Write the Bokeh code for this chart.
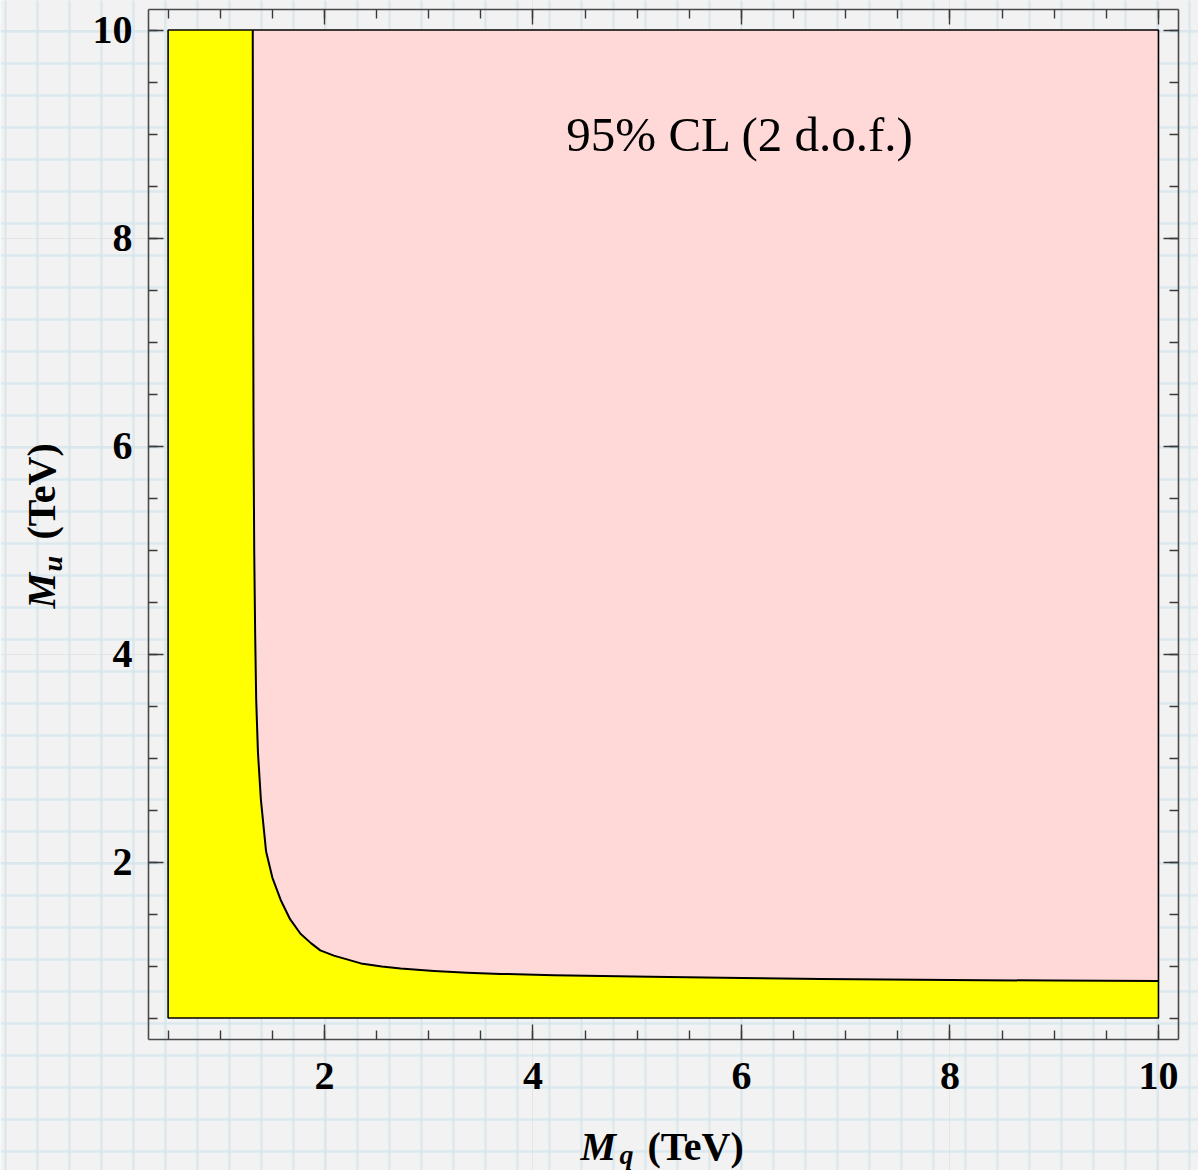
import math
from bokeh.plotting import figure
from bokeh.models import Range1d, FixedTicker, LinearAxis, Label, Grid
from bokeh.embed import file_html
from bokeh.resources import INLINE

# 95% CL exclusion boundary: M_q vs M_u in TeV
mq_boundary = [1.312, 1.314, 1.317, 1.320, 1.326, 1.335, 1.345, 1.362, 1.39, 1.44,
               1.50, 1.58, 1.67, 1.77, 1.87, 1.96, 2.09, 2.35, 2.55, 2.73,
               3.05, 3.37, 3.69, 4.20, 5.13, 6.00, 6.76, 8.00, 9.00, 10.0]
mu_boundary = [10.0, 8.5, 7.0, 6.0, 5.0, 4.2, 3.56, 3.05, 2.6, 2.1,
               1.85, 1.635, 1.45, 1.31, 1.22, 1.15, 1.10, 1.025, 0.995, 0.975,
               0.952, 0.935, 0.924, 0.912, 0.897, 0.885, 0.875, 0.865, 0.86, 0.856]

m_min, m_max = 0.5, 10.0
x_ticks = [2, 4, 6, 8, 10]
y_ticks = [2, 4, 6, 8, 10]
minor_ticks = [0.5 * i for i in range(1, 21)]
annotation = "95% CL (2 d.o.f.)"

SERIF = "Liberation Serif"
W, H = 1198, 1170
PX_X, PX_Y = 104.25, 104.0          # pixels per TeV
X0 = 0.5 - 167.6 / PX_X              # data x at the left canvas edge
Y1 = 10.0 + 29.5 / PX_Y              # data y at the top canvas edge


def dx(px):
    return X0 + px / PX_X


def dy(py):
    return Y1 - py / PX_Y


p = figure(width=W, height=H,
           x_range=Range1d(X0, X0 + W / PX_X), y_range=Range1d(Y1 - H / PX_Y, Y1),
           output_backend="svg", toolbar_location=None,
           x_axis_location=None, y_axis_location=None,
           min_border=0)
p.outline_line_color = None
p.background_fill_color = "#f2f2f2"
p.border_fill_color = "#f2f2f2"

# graph-paper page background
paper_x = [dx(5 + 32 * k) for k in range(0, 38)]
paper_y = [dy(31 + 32 * k) for k in range(-1, 37)]
for dim, ticks in ((0, paper_x), (1, paper_y)):
    g = Grid(dimension=dim, ticker=FixedTicker(ticks=ticks))
    g.grid_line_color = "#d2e4ed"
    g.grid_line_width = 2.5
    g.grid_line_alpha = 0.7
    p.add_layout(g)

# plot box (frame) in data units
bx0, bx1 = dx(148), dx(1178)
by0, by1 = dy(1039), dy(9)


def make_axis(ticks, loc, bounds, show_labels, standoff):
    ax = LinearAxis(ticker=FixedTicker(ticks=ticks, minor_ticks=minor_ticks),
                    fixed_location=loc, bounds=bounds)
    ax.axis_line_color = "#4a4a4a"
    ax.axis_line_width = 1.6
    ax.major_tick_in = 15
    ax.major_tick_out = 0
    ax.minor_tick_in = 9
    ax.minor_tick_out = 0
    ax.major_tick_line_color = "#3a3a3a"
    ax.minor_tick_line_color = "#3a3a3a"
    ax.major_tick_line_width = 1.4
    ax.minor_tick_line_width = 1.4
    if show_labels:
        ax.major_label_text_font = SERIF
        ax.major_label_text_font_style = "bold"
        ax.major_label_text_font_size = "40px"
        ax.major_label_text_color = "black"
        ax.major_label_standoff = standoff
    else:
        ax.major_label_overrides = {t: "" for t in ticks}
        ax.major_label_standoff = 0
    return ax


p.add_layout(make_axis(x_ticks, by0, (bx0, bx1), True, 23), "below")
p.add_layout(make_axis(y_ticks, bx0, (by0, by1), True, 16), "left")
p.add_layout(make_axis(x_ticks, by1, (bx0, bx1), False, 0), "above")
p.add_layout(make_axis(y_ticks, bx1, (by0, by1), False, 0), "right")

# allowed region (yellow) and excluded region (pink)
p.quad(left=[m_min], right=[m_max], bottom=[m_min], top=[m_max],
       fill_color="#ffff00", line_color=None)
p.patch(x=mq_boundary + [m_max], y=mu_boundary + [m_max],
        fill_color="#ffd8d8", line_color=None)
p.line(mq_boundary, mu_boundary, line_color="black", line_width=2,
       line_join="round")
p.quad(left=[m_min], right=[m_max], bottom=[m_min], top=[m_max],
       fill_color=None, line_color="black", line_width=1.6)

p.add_layout(Label(x=dx(740), y=dy(133.5), text=annotation, text_align="center",
                   text_baseline="middle", text_font=SERIF,
                   text_font_size="49px", text_color="black"))

# axis titles
lab = dict(text_font=SERIF, text_color="black", text_baseline="middle",
           text_align="left")
p.add_layout(Label(x=dx(580), y=dy(1145.5), text="M", text_font_style="bold italic",
                   text_font_size="40px", **lab))
p.add_layout(Label(x=dx(619), y=dy(1153.5), text="q", text_font_style="bold italic",
                   text_font_size="28px", **lab))
p.add_layout(Label(x=dx(647), y=dy(1145.5), text="(TeV)", text_font_style="bold",
                   text_font_size="40px", **lab))

p.add_layout(Label(x=dx(40.5), y=dy(608), text="M", angle=math.pi / 2,
                   text_font_style="bold italic", text_font_size="40px", **lab))
p.add_layout(Label(x=dx(51.5), y=dy(571), text="u", angle=math.pi / 2,
                   text_font_style="bold italic", text_font_size="28px", **lab))
p.add_layout(Label(x=dx(40.5), y=dy(539), text="(TeV)", angle=math.pi / 2,
                   text_font_style="bold", text_font_size="40px", **lab))

open("out.html", "w").write(file_html(p, INLINE))
